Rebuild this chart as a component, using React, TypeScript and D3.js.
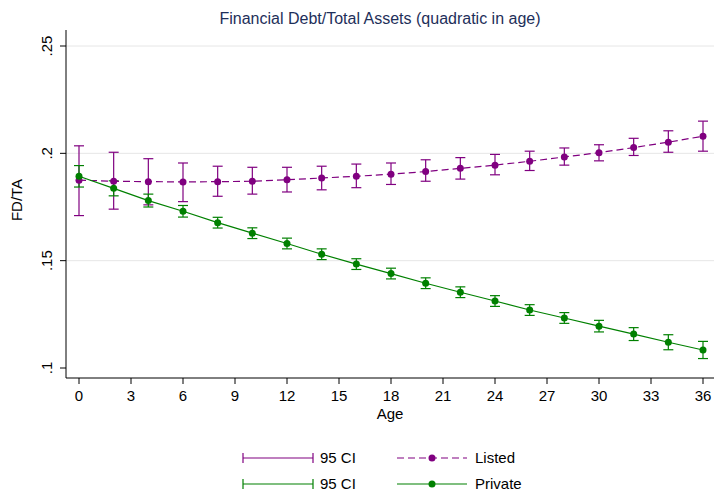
import React from 'react';
import * as d3 from 'd3';

const ages = [0, 2, 4, 6, 8, 10, 12, 14, 16, 18, 20, 22, 24, 26, 28, 30, 32, 34, 36];
const listed = [.1875, .187, .1868, .1867, .1868, .187, .1877, .1885, .1893, .1903, .1915, .193, .1945, .1963, .1983, .2003, .2027, .2052, .208];
const listedLo = [.171, .174, .176, .1775, .180, .181, .182, .183, .184, .1855, .187, .188, .190, .192, .1945, .1965, .199, .2005, .201];
const listedHi = [.2035, .2005, .1975, .1955, .194, .1935, .1935, .194, .195, .1955, .197, .198, .1995, .201, .2025, .204, .207, .2105, .215];
const priv = [.1893, .1837, .178, .173, .1677, .1628, .158, .153, .1484, .144, .1395, .1353, .1312, .127, .1233, .1195, .1158, .112, .1084];
const privHalf = [.005, .0035, .003, .0027, .0025, .0025, .0025, .0025, .0025, .0025, .0025, .0025, .0025, .0025, .0025, .0027, .003, .0035, .004];
const xTicks = [0, 3, 6, 9, 12, 15, 18, 21, 24, 27, 30, 33, 36];
const yTicks = [0.1, 0.15, 0.2, 0.25];
const yLabels = ['.1', '.15', '.2', '.25'];

const PURPLE = '#800080';
const GREEN = '#008000';

export default function App() {
  const x = d3.scaleLinear().domain([0, 36]).range([79, 703]);
  const y = d3.scaleLinear().domain([0.1, 0.25]).range([368, 46]);
  const line = d3.line<number>().x((_, i) => x(ages[i])).y(d => y(d));
  const font = 'Liberation Sans, Arial, sans-serif';
  const cap = 5;
  const bars = (lo: number[], hi: number[], color: string) =>
    ages.map((a, i) => (
      <g key={a} stroke={color} strokeWidth={1.2}>
        <line x1={x(a)} x2={x(a)} y1={y(lo[i])} y2={y(hi[i])} />
        <line x1={x(a) - cap} x2={x(a) + cap} y1={y(lo[i])} y2={y(lo[i])} />
        <line x1={x(a) - cap} x2={x(a) + cap} y1={y(hi[i])} y2={y(hi[i])} />
      </g>
    ));
  return (
    <svg width={714} height={495} style={{ position: 'absolute', left: 0, top: 0, background: '#fff' }} fontFamily={font}>
      <rect width={714} height={495} fill="#fff" />
      <text x={380} y={24} textAnchor="middle" fontSize={16} fill="#1e2f5a">Financial Debt/Total Assets (quadratic in age)</text>
      {yTicks.map((t, i) => (
        <g key={t}>
          {i > 0 && <line x1={66} x2={714} y1={y(t)} y2={y(t)} stroke="#e6e6e6" />}
          <line x1={60} x2={66} y1={y(t)} y2={y(t)} stroke="#000" />
          <text transform={`translate(52,${y(t)}) rotate(-90)`} textAnchor="middle" fontSize={15}>{yLabels[i]}</text>
        </g>
      ))}
      <line x1={66} x2={66} y1={30} y2={378} stroke="#000" />
      <line x1={66} x2={714} y1={378} y2={378} stroke="#000" />
      {xTicks.map(t => (
        <g key={t}>
          <line x1={x(t)} x2={x(t)} y1={378} y2={384} stroke="#000" />
          <text x={x(t)} y={401} textAnchor="middle" fontSize={15}>{t}</text>
        </g>
      ))}
      <text x={390} y={419} textAnchor="middle" fontSize={15}>Age</text>
      <text transform="translate(22,200) rotate(-90)" textAnchor="middle" fontSize={15}>FD/TA</text>
      {bars(listedLo, listedHi, PURPLE)}
      {bars(priv.map((v, i) => v - privHalf[i]), priv.map((v, i) => v + privHalf[i]), GREEN)}
      <path d={line(listed) ?? ''} fill="none" stroke={PURPLE} strokeWidth={1.2} strokeDasharray="7,4" />
      <path d={line(priv) ?? ''} fill="none" stroke={GREEN} strokeWidth={1.2} />
      {ages.map((a, i) => <circle key={'l' + a} cx={x(a)} cy={y(listed[i])} r={3.5} fill={PURPLE} />)}
      {ages.map((a, i) => <circle key={'p' + a} cx={x(a)} cy={y(priv[i])} r={3.5} fill={GREEN} />)}
      <rect x={228} y={440} width={316} height={52} fill="none" stroke="#fff" />
      {[{ c: PURPLE, yy: 458, lab: 'Listed', dash: '7,4' }, { c: GREEN, yy: 484, lab: 'Private', dash: '' }].map(r => (
        <g key={r.lab}>
          <line x1={243} x2={313} y1={r.yy} y2={r.yy} stroke={r.c} strokeWidth={1.2} />
          <line x1={243} x2={243} y1={r.yy - 5} y2={r.yy + 5} stroke={r.c} strokeWidth={1.2} />
          <line x1={313} x2={313} y1={r.yy - 5} y2={r.yy + 5} stroke={r.c} strokeWidth={1.2} />
          <text x={320} y={r.yy + 5} fontSize={15}>95 CI</text>
          <line x1={397} x2={467} y1={r.yy} y2={r.yy} stroke={r.c} strokeWidth={1.2} strokeDasharray={r.dash} />
          <circle cx={432} cy={r.yy} r={3.5} fill={r.c} />
          <text x={475} y={r.yy + 5} fontSize={15}>{r.lab}</text>
        </g>
      ))}
    </svg>
  );
}
